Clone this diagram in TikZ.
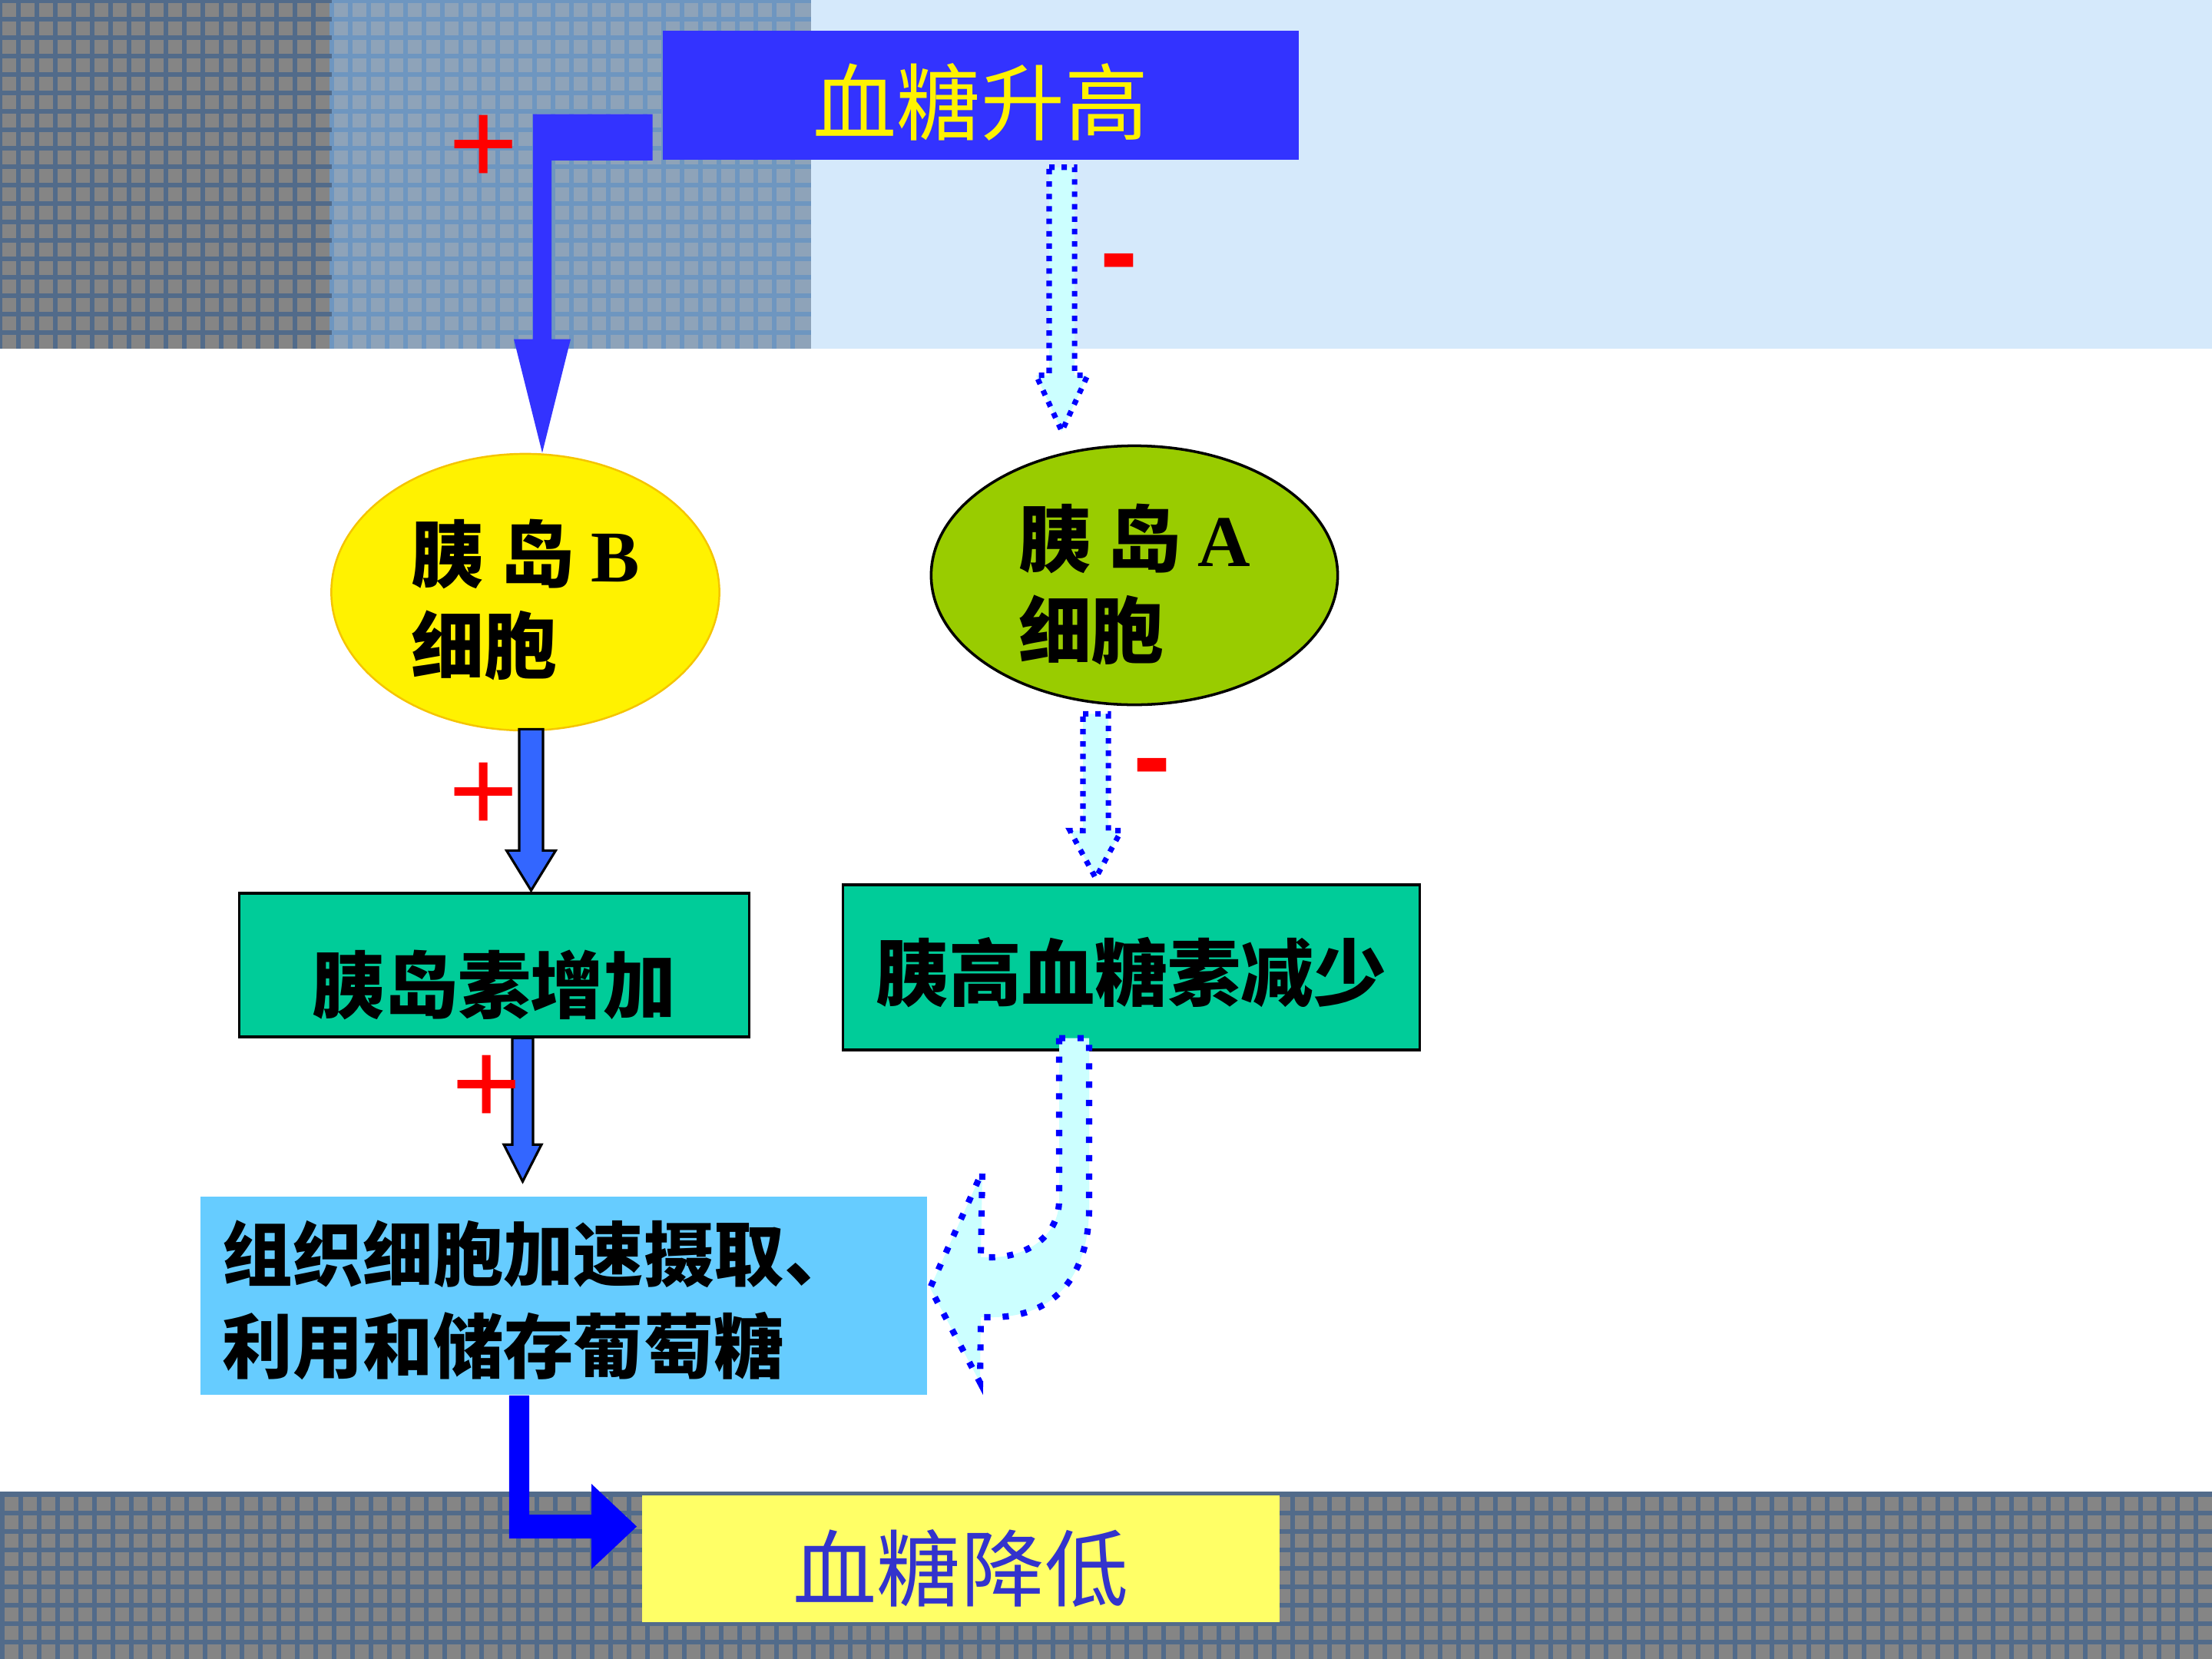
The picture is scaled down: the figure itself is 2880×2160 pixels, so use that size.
\documentclass[tikz,border=0pt]{standalone}
\usepackage{fontspec}
\setmainfont{Liberation Serif}
\newfontfamily\cjk{Noto Sans CJK SC}
\newfontfamily\arialf{Liberation Sans}
\usetikzlibrary{shapes.geometric}
\usetikzlibrary{calc}

\definecolor{gridline}{HTML}{526B8A}
\definecolor{gridcell}{HTML}{858585}
\definecolor{lgridline}{HTML}{6E96C0}
\definecolor{lgridcell}{HTML}{8EA3B9}
\definecolor{skyband}{HTML}{D5E9FB}
\definecolor{boxblue}{HTML}{3333FF}
\definecolor{shaftblue}{HTML}{3366FF}
\definecolor{tealbox}{HTML}{00CC99}
\definecolor{limegreen}{HTML}{99CC00}
\definecolor{tissueblue}{HTML}{66CCFF}
\definecolor{paleyellow}{HTML}{FFFF66}
\definecolor{inkblue}{HTML}{3333CC}
\definecolor{palecyan}{HTML}{CCFFFF}
\definecolor{amber}{HTML}{F5C400}

\tikzset{
	>=latex,
	headbox/.style={fill=boxblue, text=yellow, inner sep=0pt,
		font=\cjk\fontsize{31pt}{37pt}\selectfont},
	cellbox/.style={ellipse, inner sep=0pt, align=left,
		font=\cjk\bfseries\fontsize{27pt}{34pt}\selectfont},
	hormbox/.style={fill=tealbox, draw=black, line width=0.9pt, inner sep=0pt,
		font=\cjk\bfseries\fontsize{27pt}{34pt}\selectfont},
	plusmark/.style={text=red, inner sep=0pt, font=\arialf\fontsize{44pt}{44pt}\selectfont},
	minusmark/.style={text=red, inner sep=0pt, font=\arialf\bfseries\fontsize{42pt}{42pt}\selectfont},
	shaft/.style={fill=shaftblue, draw=black, line width=0.9pt},
	dotted arrow/.style={fill=palecyan, draw=blue, line width=2pt, dash pattern=on 2pt off 2.6pt},
	grid band/.style={line width=1.5pt},
}

% lower a line of text without changing its box
\newcommand{\sink}[2]{\raisebox{-#1}[\height][\depth]{#2}}

% vertical block arrow: style, from, to, half shaft, half head, head length
\newcommand{\dropArrow}[6]{%
	\draw[#1] let \p1=(#2), \p2=(#3) in
		(\x1-#4,\y1) -- (\x1+#4,\y1) -- (\x1+#4,\y2+#6) -- (\x1+#5,\y2+#6)
		-- (\x1,\y2) -- (\x1-#5,\y2+#6) -- (\x1-#4,\y2+#6) -- cycle;
}

\begin{document}
\begin{tikzpicture}[x=0.01cm, y=-0.01cm]
	\useasboundingbox (0,0) rectangle (2880,2160);
	\fill[white] (0,0) rectangle (2880,2160);

	% backgrounds
	\fill[skyband] (1056,0) rectangle (2880,454);
	\fill[gridcell] (0,0) rectangle (432,454);
	\fill[lgridcell] (432,0) rectangle (1056,454);
	\fill[gridcell] (0,1944) rectangle (2880,2160);
	\foreach \x in {0,24,...,420}{
		\draw[gridline, grid band] (\x,0) -- (\x,454);
	}
	\foreach \x in {432,456,...,1044}{
		\draw[lgridline, grid band] (\x,0) -- (\x,454);
	}
	\foreach \y in {1,25,...,450}{
		\draw[gridline, grid band] (0,\y) -- (432,\y);
		\draw[lgridline, grid band] (432,\y) -- (1056,\y);
	}
	\foreach \x in {3,27,...,2880}{
		\draw[gridline, grid band] (\x,1944) -- (\x,2160);
	}
	\foreach \y in {1946,1970,...,2160}{
		\draw[gridline, grid band] (0,\y) -- (2880,\y);
	}
	\draw[gridline, line width=1.8pt] (0,1945) -- (2880,1945);

	% nodes
	\node[headbox, minimum width=8.27cm, minimum height=1.68cm] (high) at (1277,124) {\sink{0.09cm}{血糖升高}};
	\node[cellbox, fill=yellow, draw=amber, line width=0.7pt, minimum width=5.05cm, minimum height=3.6cm] (cellB) at (684,771)
		{\sink{0.1cm}{胰 岛 {\rmfamily\bfseries B}}\\\sink{0.1cm}{细胞}};
	\node[cellbox, fill=limegreen, draw=black, line width=1pt, minimum width=5.29cm, minimum height=3.37cm] (cellA) at (1477,749)
		{\sink{0.12cm}{胰 岛 {\rmfamily\bfseries A}}\\\sink{0.12cm}{细胞}};
	\node[hormbox, minimum width=6.63cm, minimum height=1.87cm] (ins) at (643.5,1256.5) {\sink{0.26cm}{胰岛素增加}};
	\node[hormbox, minimum width=7.5cm, minimum height=2.15cm] (gluc) at (1473,1259.5) {\sink{0.07cm}{胰高血糖素减少}};
	\node[fill=tissueblue, inner xsep=0.29cm, text width=8.88cm, minimum height=2.58cm, align=left,
		font=\cjk\bfseries\fontsize{26pt}{34pt}\selectfont] (tissue) at (734,1687)
		{\sink{0.06cm}{组织细胞加速摄取、}\\\sink{0.06cm}{利用和储存葡萄糖}};
	\node[fill=paleyellow, text=inkblue, inner sep=0pt, minimum width=8.3cm, minimum height=1.65cm,
		font=\cjk\fontsize{31pt}{37pt}\selectfont] (low) at (1251,2029.5) {\sink{0.13cm}{血糖降低}};

	% bent arrow into cell B
	\fill[boxblue] let \p1=($(high.south west)+(-13,0)$), \p2=($(cellB.north)+(22,0)$) in
		(\x1,\y1) -- (\x1,\y1+0.6cm) -- (\x2-0.12cm,\y1+0.6cm) -- (\x2-0.12cm,\y2+1.48cm)
		-- (\x2-0.37cm,\y2+1.48cm) -- (\x2,\y2) -- (\x2+0.37cm,\y2+1.48cm)
		-- (\x2+0.12cm,\y2+1.48cm) -- (\x2+0.12cm,\y1) -- cycle;

	% straight arrows
	\dropArrow{dotted arrow}{$(high.south)+(105.5,9)$}{$(cellA.north)+(0,-17)$}{0.165cm}{0.335cm}{0.73cm}
	\dropArrow{dotted arrow}{$(cellA.south)+(-50.5,10)$}{$(gluc.north)+(0,-7)$}{0.165cm}{0.335cm}{0.62cm}
	\dropArrow{shaft}{$(cellB.south)+(7.5,-3)$}{$(ins.north)+(0,-2)$}{0.155cm}{0.32cm}{0.52cm}
	\dropArrow{shaft}{$(ins.south)+(37,0)$}{$(tissue.north)+(0,-19)$}{0.135cm}{0.245cm}{0.48cm}

	% curved arrow back to the tissue box
	\draw[dotted arrow, line width=2.3pt, dash pattern=on 2.3pt off 4.5pt]
		let \p1=($(gluc.south)+(-94,-17)$), \p2=($(tissue.east)+(3,-10)$) in
		(\x1,\y1) -- (\x1,\y1-2.1cm)
		.. controls (\x1,\y1-2.62cm) and (\x2+1.2cm,\y2+0.4cm) .. (\x2+0.8cm,\y2+0.4cm)
		-- (\x2+0.66cm,\y2+0.4cm) -- (\x2+0.68cm,\y2+1.52cm) -- (\x2,\y2)
		-- (\x2+0.65cm,\y2-1.23cm) -- (\x2+0.66cm,\y2-0.38cm) -- (\x2+0.8cm,\y2-0.38cm)
		.. controls (\x2+1.7cm,\y2-0.38cm) and (\x1+0.39cm,\y1-3cm) .. (\x1+0.39cm,\y1-2.2cm)
		-- (\x1+0.39cm,\y1) -- cycle;

	% bent arrow into the result
	\fill[blue] let \p1=($(tissue.south)+(-58,0)$), \p2=($(low.west)+(-6,-42)$) in
		(\x1-0.13cm,\y1) -- (\x1+0.13cm,\y1) -- (\x1+0.13cm,\y2+0.155cm)
		-- (\x2-0.59cm,\y2+0.155cm) -- (\x2-0.59cm,\y2+0.555cm) -- (\x2,\y2)
		-- (\x2-0.59cm,\y2-0.555cm) -- (\x2-0.59cm,\y2-0.155cm)
		-- (\x1-0.13cm,\y2-0.155cm) -- cycle;

	% signs
	\node[plusmark] (pB) at (630,195) {+};
	\node[plusmark] (pIns) at (630,1038) {+};
	\node[plusmark] (pTis) at (634,1419) {+};
	\node[minusmark] (mA) at (1457,354) {-};
	\node[minusmark] (mGluc) at (1500,1011) {-};

\end{tikzpicture}
\end{document}
